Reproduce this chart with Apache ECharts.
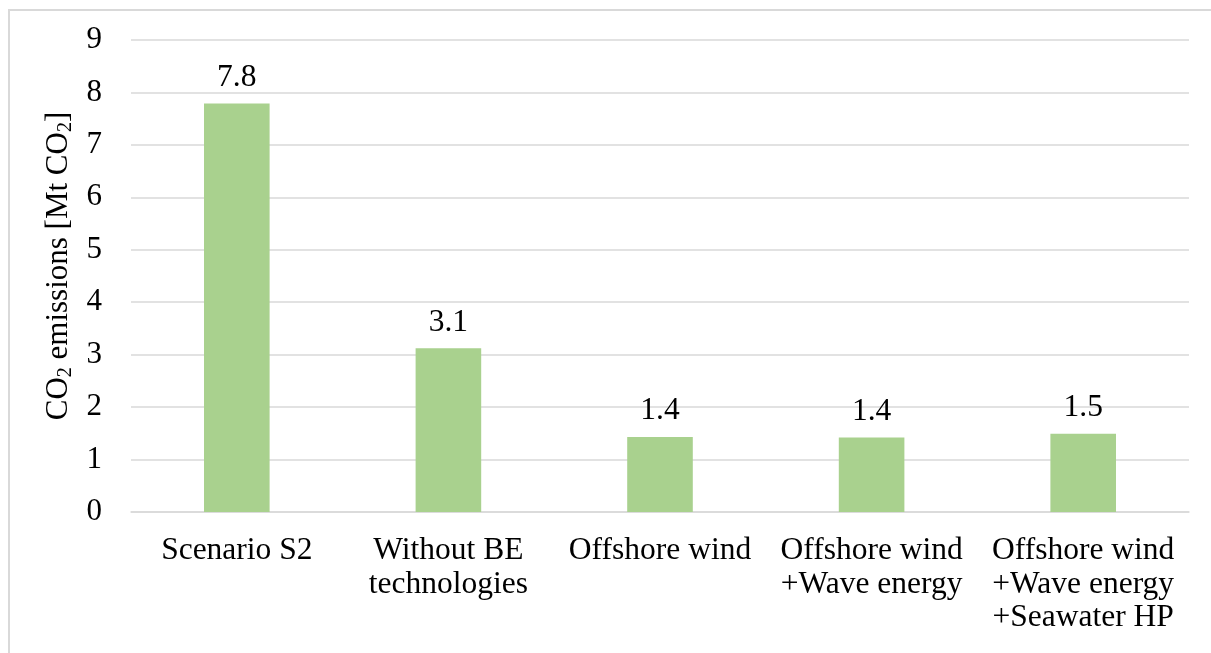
<!DOCTYPE html>
<html><head><meta charset="utf-8">
<script src="https://cdn.jsdelivr.net/npm/echarts@6/dist/echarts.min.js"></script>
<style>html,body{margin:0;padding:0;background:#fff}#c{width:1211px;height:653px}</style>
</head><body><div id="c"></div>
<script>
const categories = ["Scenario S2", "Without BE\ntechnologies", "Offshore wind", "Offshore wind\n+Wave energy", "Offshore wind\n+Wave energy\n+Seawater HP"];
const values = [7.8, 3.1, 1.4, 1.4, 1.5];
const barHeights = [7.79, 3.12, 1.43, 1.42, 1.49];
const yTicks = [0, 9, 1];
const font = '"Liberation Serif", "Times New Roman", serif';
const chart = echarts.init(document.getElementById('c'));
chart.setOption({
  animation: false,
  graphic: [{type: 'rect', shape: {x: 9, y: 10, width: 1400, height: 1000}, style: {fill: 'none', stroke: '#d9d9d9', lineWidth: 2}}],
  grid: {left: 131, right: 22, top: 40, bottom: 141},
  xAxis: {
    type: 'category', data: categories,
    axisLine: {lineStyle: {color: '#d9d9d9', width: 1.5}},
    axisTick: {show: false},
    axisLabel: {fontFamily: font, fontSize: 31.5, color: '#000', lineHeight: 33.5, margin: 22, interval: 0}
  },
  yAxis: {
    type: 'value', min: yTicks[0], max: yTicks[1], interval: yTicks[2],
    name: '{n|CO}{s|2}{n| emissions [Mt CO}{s|2}{n|]}',
    nameLocation: 'middle', nameGap: 53, nameRotate: 90,
    nameTextStyle: {
      padding: [0, 0, 0, 20],
      rich: {
        n: {fontFamily: font, fontSize: 31, color: '#000', lineHeight: 34, verticalAlign: 'middle'},
        s: {fontFamily: font, fontSize: 20, color: '#000', lineHeight: 16, verticalAlign: 'bottom'}
      }
    },
    axisLine: {show: false}, axisTick: {show: false},
    splitLine: {lineStyle: {color: '#d9d9d9', width: 1.5}},
    axisLabel: {fontFamily: font, fontSize: 31, color: '#000', margin: 29}
  },
  series: [{
    type: 'bar', barWidth: '31%',
    data: barHeights.map((v, i) => ({value: v, label: {formatter: values[i].toFixed(1)}})),
    itemStyle: {color: '#A9D18E'},
    label: {show: true, position: 'top', distance: 10, fontFamily: font, fontSize: 31.5, color: '#000'}
  }]
});
</script></body></html>
